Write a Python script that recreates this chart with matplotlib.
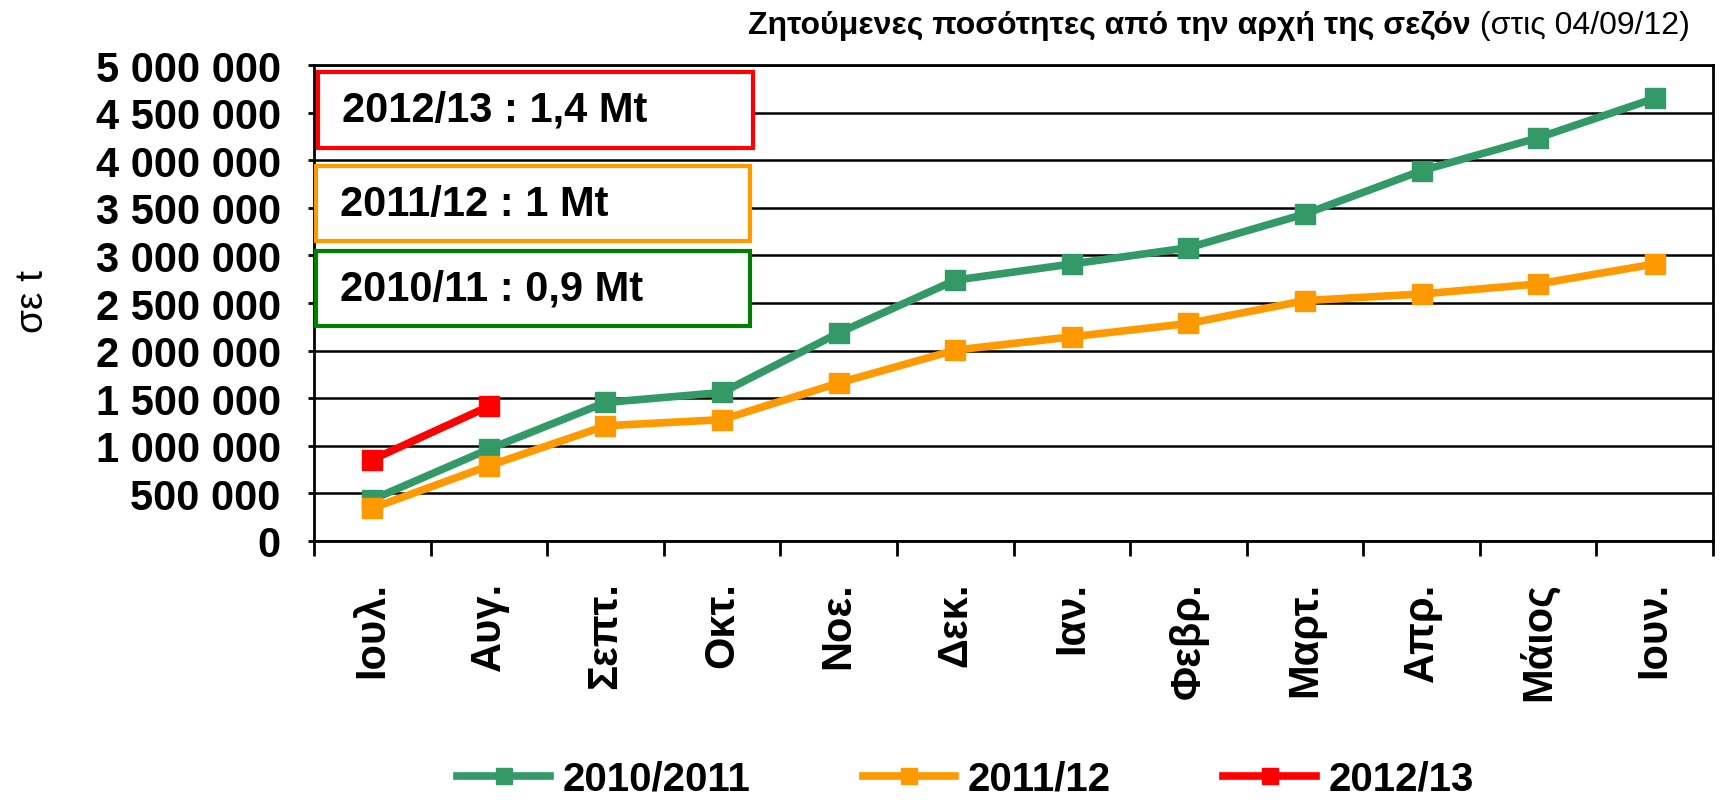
import numpy as np
import matplotlib
matplotlib.use('Agg')
import matplotlib.pyplot as plt
from matplotlib.patches import Rectangle
from matplotlib.ticker import FuncFormatter, MultipleLocator

plt.rcParams['font.family'] = ['Liberation Sans', 'DejaVu Sans']

# months of the season (July -> June)
months = ['Ιουλ.', 'Αυγ.', 'Σεπτ.', 'Οκτ.', 'Νοε.', 'Δεκ.', 'Ιαν.', 'Φεβρ.', 'Μαρτ.', 'Απρ.', 'Μάιος', 'Ιουν.']

# cumulative quantities requested (t)
s_2010 = [435000, 965000, 1455000, 1560000, 2185000, 2740000, 2910000, 3080000, 3435000, 3890000, 4235000, 4650000]
s_2011 = [345000, 790000, 1210000, 1275000, 1660000, 2005000, 2145000, 2285000, 2525000, 2595000, 2700000, 2910000]
s_2012 = [855000, 1415000]

series_names = ['2010/2011', '2011/12', '2012/13']
series_colors = ['#339966', '#FF9900', '#FF0000']

box_texts = ['2012/13 : 1,4 Mt', '2011/12 : 1 Mt', '2010/11 : 0,9 Mt']
box_colors = ['#FF0000', '#FF9900', '#008000']

W, H = 1721, 804
fig = plt.figure(figsize=(W/100, H/100), dpi=100)
ax = fig.add_axes([314/W, 1-542/H, 1399/W, 476/H])

x = np.arange(len(months))
for vals, name, col in zip([s_2010, s_2011, s_2012], series_names, series_colors):
    ax.plot(x[:len(vals)], vals, color=col, lw=5.5, marker='s', ms=14.5,
            mec=col, mfc=col, label=name, zorder=4)

ax.set_xlim(-0.5, 11.5)
ax.set_ylim(0, 5000000)
ax.yaxis.set_major_locator(MultipleLocator(500000))
ax.yaxis.set_major_formatter(FuncFormatter(lambda v, p: f'{int(v):,}'.replace(',', ' ')))
ax.yaxis.grid(True, color='black', lw=1.8, zorder=1)
ax.set_axisbelow(True)

ax.set_xticks(x)
ax.set_xticklabels(months, rotation=90, fontsize=30, fontweight='bold', va='top', ha='center')
ax.set_xticks(np.arange(-0.5, 12, 1), minor=True)
ax.tick_params(axis='x', which='major', length=0, pad=29)
ax.tick_params(axis='x', which='minor', length=11, width=2, direction='out')
ax.tick_params(axis='y', length=4, width=2, direction='out', pad=20, labelsize=30)
for lbl in ax.get_yticklabels():
    lbl.set_fontweight('bold')
for sp in ax.spines.values():
    sp.set_color('black')
    sp.set_linewidth(2)

# boxes with season totals
boxes = [(0.003, 0.826, 0.311, 0.159), (0.0014, 0.630, 0.310, 0.158), (0.0014, 0.452, 0.310, 0.157)]
for (bx, by, bw, bh), txt, col in zip(boxes, box_texts, box_colors):
    ax.add_patch(Rectangle((bx, by), bw, bh, transform=ax.transAxes, facecolor='white',
                           edgecolor=col, lw=3, zorder=3))
    ax.text(bx + 0.017, by + bh/2, txt, transform=ax.transAxes, fontsize=30,
            fontweight='bold', va='center', ha='left', zorder=5)

# title in two parts (bold + normal)
t2 = fig.text(1690/W, 1-34/H, ' (στις 04/09/12)', ha='right', va='baseline', fontsize=23)
fig.canvas.draw()
bb = t2.get_window_extent()
fig.text(bb.x0/W, 1-34/H, 'Ζητούμενες ποσότητες από την αρχή της σεζόν', ha='right',
         va='baseline', fontsize=23, fontweight='bold')

fig.text(33/W, 1-302/H, 'σε t', rotation=90, fontsize=28, ha='center', va='center')

fig.legend(*ax.get_legend_handles_labels(), loc='center', bbox_to_anchor=(0.561, 0.03),
           ncol=3, frameon=False, prop={'size': 29, 'weight': 'bold'}, handlelength=2.3,
           handletextpad=0.3, columnspacing=2.8, markerscale=0.8,
           borderpad=0.1, borderaxespad=0)

fig.savefig('out.png', dpi=100)
